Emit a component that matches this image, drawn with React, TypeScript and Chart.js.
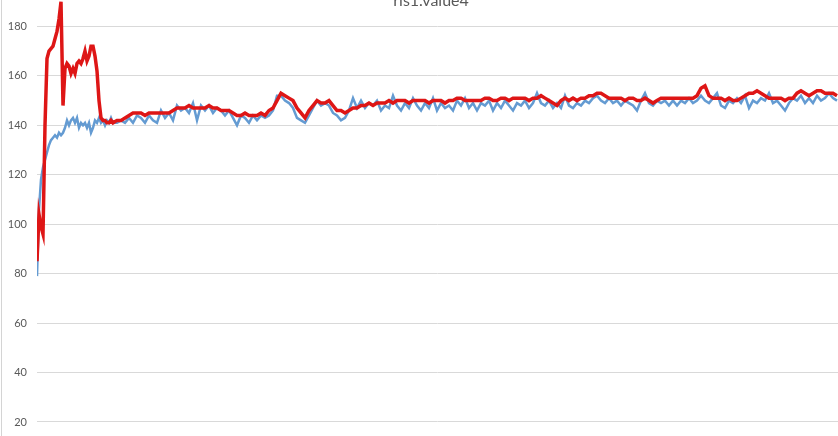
import { useEffect, useRef } from "react";
import { Chart, registerables } from "chart.js";

Chart.register(...registerables);

const TITLE = "ris1.value4";

// sample index (x position of each reading)
const sampleIndex = [
  0, 2, 4, 6, 8, 10, 12, 14, 16, 18,
  20, 22, 24, 26, 28, 30, 32, 34, 36, 38,
  40, 42, 44, 46, 48, 50, 52, 54, 56, 58,
  60, 62, 64, 66, 68, 70, 72, 74, 76,
  80, 84, 88, 92, 96, 100, 104, 108, 112, 116,
  120, 124, 128, 132, 136, 140, 144, 148, 152, 156,
  160, 164, 168, 172, 176, 180, 184, 188, 192, 196,
  200, 204, 208, 212, 216, 220, 224, 228, 232, 236,
  240, 244, 248, 252, 256, 260, 264, 268, 272, 276,
  280, 284, 288, 292, 296, 300, 304, 308, 312, 316,
  320, 324, 328, 332, 336, 340, 344, 348, 352, 356,
  360, 364, 368, 372, 376, 380, 384, 388, 392, 396,
  400, 404, 408, 412, 416, 420, 424, 428, 432, 436,
  440, 444, 448, 452, 456, 460, 464, 468, 472, 476,
  480, 484, 488, 492, 496, 500, 504, 508, 512, 516,
  520, 524, 528, 532, 536, 540, 544, 548, 552, 556,
  560, 564, 568, 572, 576, 580, 584, 588, 592, 596,
  600, 604, 608, 612, 616, 620, 624, 628, 632, 636,
  640, 644, 648, 652, 656, 660, 664, 668, 672, 676,
  680, 684, 688, 692, 696, 700, 704, 708, 712, 716,
  720, 724, 728, 732, 736, 740, 744, 748, 752, 756,
  760, 764, 768, 772, 776, 780, 784, 788, 792, 796,
  800,
];

const redValues = [
  85, 104, 99, 96, 140, 167, 170, 171, 172, 175,
  178, 183, 190, 148, 163, 165, 164, 161, 163, 161,
  165, 166, 165, 167, 170, 166, 168, 172, 172, 168,
  162, 150, 143, 142, 142, 141, 141, 142, 141,
  142, 142, 143, 144, 145, 145, 145, 144, 145, 145,
  145, 145, 145, 145, 146, 147, 147, 147, 148, 147,
  147, 147, 147, 148, 147, 147, 146, 146, 146, 145,
  144, 144, 145, 144, 144, 144, 145, 144, 146, 147,
  150, 153, 152, 151, 150, 147, 145, 143, 146, 148,
  150, 149, 149, 150, 148, 146, 146, 145, 146, 147,
  147, 148, 148, 149, 148, 149, 149, 149, 150, 149,
  150, 150, 150, 149, 150, 150, 150, 150, 149, 150,
  150, 150, 149, 150, 150, 151, 151, 150, 150, 150,
  150, 150, 151, 151, 150, 150, 151, 151, 150, 151,
  151, 151, 151, 150, 151, 151, 152, 151, 150, 149,
  148, 150, 151, 150, 151, 150, 151, 151, 152, 152,
  153, 153, 152, 151, 151, 151, 151, 150, 151, 151,
  150, 150, 151, 150, 149, 150, 151, 151, 151, 151,
  151, 151, 151, 151, 151, 152, 155, 156, 152, 151,
  151, 151, 150, 151, 150, 150, 151, 152, 153, 153,
  154, 153, 152, 151, 151, 151, 151, 150, 151, 151,
  153, 154, 153, 152, 153, 154, 154, 153, 153, 153,
  152,
];

const blueValues = [
  79, 106, 118, 123, 126, 129, 132, 134, 135, 136,
  135, 137, 136, 137, 139, 142, 140, 142, 143, 141,
  143, 139, 141, 140, 141, 139, 141, 137, 139, 142,
  141, 143, 141, 142, 140, 142, 141, 143, 141,
  141, 142, 141, 143, 141, 144, 143, 141, 144, 142,
  141, 146, 143, 145, 142, 148, 146, 147, 145, 149,
  142, 148, 146, 148, 145, 147, 146, 144, 146, 143,
  140, 144, 143, 141, 144, 142, 144, 143, 144, 146,
  152, 152, 150, 149, 147, 143, 142, 141, 144, 147,
  150, 148, 149, 148, 145, 144, 142, 143, 146, 151,
  147, 150, 147, 149, 148, 150, 146, 148, 147, 152,
  148, 146, 149, 147, 151, 148, 146, 149, 147, 151,
  146, 149, 147, 148, 146, 150, 148, 151, 147, 149,
  146, 149, 148, 150, 146, 149, 147, 150, 148, 146,
  149, 148, 150, 147, 149, 153, 149, 148, 150, 147,
  149, 147, 152, 148, 147, 149, 148, 150, 149, 151,
  152, 150, 149, 151, 149, 150, 148, 150, 149, 148,
  146, 150, 153, 149, 148, 150, 149, 150, 148, 150,
  148, 150, 149, 151, 149, 150, 152, 150, 149, 151,
  153, 148, 147, 150, 149, 151, 149, 152, 147, 150,
  149, 151, 150, 153, 149, 150, 148, 146, 149, 151,
  150, 152, 149, 151, 149, 152, 150, 151, 153, 151,
  150,
];

export default function App() {
  const ref = useRef<HTMLCanvasElement>(null);

  useEffect(() => {
    const titlePlugin = {
      id: "excelTitle",
      afterDraw(chart: any) {
        const ctx = chart.ctx;
        ctx.save();
        ctx.font = "16px Lato";
        ctx.fillStyle = "#595959";
        ctx.textAlign = "center";
        ctx.textBaseline = "alphabetic";
        ctx.fillText(TITLE, 431, 46);
        ctx.restore();
      },
    };

    const chart = new Chart(ref.current as HTMLCanvasElement, {
      type: "line",
      data: {
        datasets: [
          {
            label: "red",
            data: sampleIndex.map((x, i) => ({ x, y: redValues[i] })),
            borderColor: "rgb(222,22,22)",
            borderWidth: 3.5,
            pointRadius: 0,
            tension: 0,
            fill: false,
          },
          {
            label: "blue",
            data: sampleIndex.map((x, i) => ({ x, y: blueValues[i] })),
            borderColor: "rgb(100,155,210)",
            borderWidth: 2.5,
            pointRadius: 0,
            tension: 0,
            fill: false,
          },
        ],
      },
      options: {
        animation: false,
        responsive: false,
        maintainAspectRatio: false,
        layout: { padding: { top: 17, bottom: 11, left: 0, right: 0 } },
        plugins: {
          legend: { display: false },
          tooltip: { enabled: false },
          title: { display: false },
        },
        scales: {
          x: { type: "linear", min: 0, max: 801, display: false },
          y: {
            min: 0,
            max: 200,
            ticks: {
              stepSize: 20,
              color: "#595959",
              font: { family: "Lato", size: 11 },
              padding: 10,
            },
            grid: { color: "#d9d9d9", drawTicks: false, lineWidth: 1 },
            border: { display: false },
            afterFit(scale: any) {
              scale.width = 37;
            },
          },
        },
      },
      plugins: [titlePlugin],
    });
    return () => chart.destroy();
  }, []);

  return (
    <div
      style={{
        position: "fixed",
        left: 0,
        top: -40,
        width: 838,
        height: 528,
        background: "#ffffff",
        overflow: "hidden",
      }}
    >
      <canvas
        ref={ref}
        width={838}
        height={528}
        style={{ display: "block", width: 838, height: 528 }}
      />
      <div
        style={{
          position: "absolute",
          left: 1,
          top: 0,
          width: 1,
          height: 528,
          background: "#d4d4d4",
        }}
      />
    </div>
  );
}
